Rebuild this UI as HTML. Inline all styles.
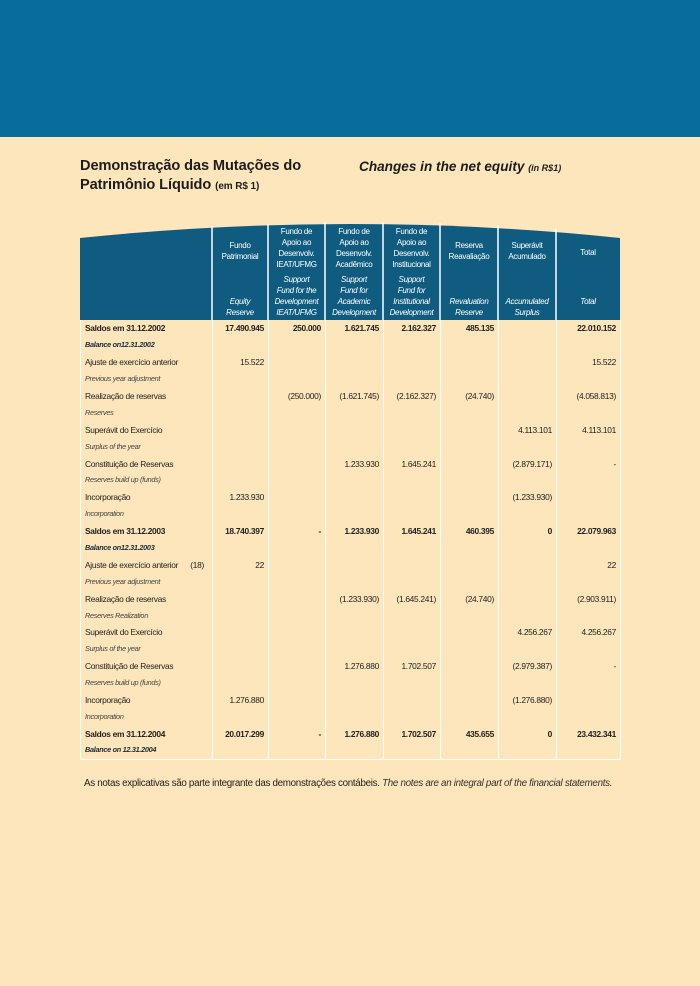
<!DOCTYPE html>
<html><head><meta charset="utf-8"><style>
*{margin:0;padding:0;box-sizing:border-box}
body{width:700px;height:986px;background:#fde6bb;position:relative;overflow:hidden;font-family:"Liberation Sans",sans-serif;color:#222}
#band{position:absolute;left:0;top:0;width:700px;height:137px;background:#086d9a}
.t1{position:absolute;left:80px;top:157px;font-size:14.6px;font-weight:bold;color:#1d1d1d;line-height:19px;letter-spacing:-0.1px}
.t1 small{font-size:10px}
.t2{position:absolute;left:359px;top:159px;font-size:13.6px;font-weight:bold;font-style:italic;color:#1d1d1d}
.t2 small{font-size:9px}
#hdr{position:absolute;left:80px;top:222px}
.hc{position:absolute;top:0;height:98px;color:#fff;text-align:center;font-size:8px;line-height:11px;letter-spacing:-0.3px}
.hc .pt{position:absolute;left:0;right:0;bottom:58px}
.hc .en{position:absolute;left:0;right:0;bottom:2px;font-style:italic}
table{position:absolute;left:80px;top:320px;width:540px;border-collapse:collapse;table-layout:fixed;border:1.5px solid #fff;border-top:none}
td{height:16.9px;font-size:8.4px;letter-spacing:-0.3px;border-left:1.5px solid #fff;border-right:1.5px solid #fff;text-align:right;padding:0 4px;white-space:nowrap;line-height:10px}
td:first-child{text-align:left;padding-left:4px}
tr.b td{font-weight:bold}
tr.e td{font-style:italic;font-size:7.3px;color:#444}
tr.eb td{font-style:italic;font-weight:bold;font-size:7.3px;color:#1a2a3a}
.foot{position:absolute;left:84px;top:778px;font-size:9.8px;letter-spacing:-0.3px;color:#222}
.foot i{color:#333}
</style></head><body>
<div id="band"></div>
<div class="t1">Demonstração das Mutações do<br>Patrimônio Líquido <small>(em R$ 1)</small></div>
<div class="t2">Changes in the net equity <small>(in R$1)</small></div>

<div id="hdr">
<svg width="540" height="98" style="position:absolute;left:0;top:0">
<path d="M0 16 Q270 -12 540 16 L540 98 L0 98 Z" fill="#0f5c80"/>
<g stroke="#fff" stroke-width="1.5">
<line x1="132" y1="4" x2="132" y2="98"/><line x1="188" y1="2" x2="188" y2="98"/><line x1="245" y1="0" x2="245" y2="98"/><line x1="303" y1="0" x2="303" y2="98"/><line x1="360" y1="1" x2="360" y2="98"/><line x1="418" y1="3" x2="418" y2="98"/><line x1="476" y1="6" x2="476" y2="98"/>
</g></svg>
<div class="hc" style="left:132px;width:56px"><div class="pt">Fundo<br>Patrimonial</div><div class="en">Equity<br>Reserve</div></div>
<div class="hc" style="left:188px;width:57px"><div class="pt" style="bottom:50px">Fundo de<br>Apoio ao<br>Desenvolv.<br>IEAT/UFMG</div><div class="en">Support<br>Fund for the<br>Development<br>IEAT/UFMG</div></div>
<div class="hc" style="left:245px;width:58px"><div class="pt" style="bottom:50px">Fundo de<br>Apoio ao<br>Desenvolv.<br>Acadêmico</div><div class="en">Support<br>Fund for<br>Academic<br>Development</div></div>
<div class="hc" style="left:303px;width:57px"><div class="pt" style="bottom:50px">Fundo de<br>Apoio ao<br>Desenvolv.<br>Institucional</div><div class="en">Support<br>Fund for<br>Institutional<br>Development</div></div>
<div class="hc" style="left:360px;width:58px"><div class="pt">Reserva<br>Reavaliação</div><div class="en">Revaluation<br>Reserve</div></div>
<div class="hc" style="left:418px;width:58px"><div class="pt">Superávit<br>Acumulado</div><div class="en">Accumulated<br>Surplus</div></div>
<div class="hc" style="left:476px;width:64px"><div class="pt" style="bottom:62px">Total</div><div class="en" style="bottom:13px">Total</div></div>
</div>

<table>
<colgroup><col style="width:132px"><col style="width:56px"><col style="width:57px"><col style="width:58px"><col style="width:57px"><col style="width:58px"><col style="width:58px"><col style="width:64px"></colgroup>
<tr class="b"><td>Saldos em 31.12.2002</td><td>17.490.945</td><td>250.000</td><td>1.621.745</td><td>2.162.327</td><td>485.135</td><td></td><td>22.010.152</td></tr>
<tr class="eb"><td>Balance on12.31.2002</td><td></td><td></td><td></td><td></td><td></td><td></td><td></td></tr>
<tr><td>Ajuste de exercício anterior</td><td>15.522</td><td></td><td></td><td></td><td></td><td></td><td>15.522</td></tr>
<tr class="e"><td>Previous year adjustment</td><td></td><td></td><td></td><td></td><td></td><td></td><td></td></tr>
<tr><td>Realização de reservas</td><td></td><td>(250.000)</td><td>(1.621.745)</td><td>(2.162.327)</td><td>(24.740)</td><td></td><td>(4.058.813)</td></tr>
<tr class="e"><td>Reserves</td><td></td><td></td><td></td><td></td><td></td><td></td><td></td></tr>
<tr><td>Superávit do Exercício</td><td></td><td></td><td></td><td></td><td></td><td>4.113.101</td><td>4.113.101</td></tr>
<tr class="e"><td>Surplus of the year</td><td></td><td></td><td></td><td></td><td></td><td></td><td></td></tr>
<tr><td>Constituição de Reservas</td><td></td><td></td><td>1.233.930</td><td>1.645.241</td><td></td><td>(2.879.171)</td><td>-</td></tr>
<tr class="e"><td>Reserves build up (funds)</td><td></td><td></td><td></td><td></td><td></td><td></td><td></td></tr>
<tr><td>Incorporação</td><td>1.233.930</td><td></td><td></td><td></td><td></td><td>(1.233.930)</td><td></td></tr>
<tr class="e"><td>Incorporation</td><td></td><td></td><td></td><td></td><td></td><td></td><td></td></tr>
<tr class="b"><td>Saldos em 31.12.2003</td><td>18.740.397</td><td>-</td><td>1.233.930</td><td>1.645.241</td><td>460.395</td><td>0</td><td>22.079.963</td></tr>
<tr class="eb"><td>Balance on12.31.2003</td><td></td><td></td><td></td><td></td><td></td><td></td><td></td></tr>
<tr><td>Ajuste de exercício anterior&nbsp;&nbsp;&nbsp;&nbsp;&nbsp;&nbsp;(18)</td><td>22</td><td></td><td></td><td></td><td></td><td></td><td>22</td></tr>
<tr class="e"><td>Previous year adjustment</td><td></td><td></td><td></td><td></td><td></td><td></td><td></td></tr>
<tr><td>Realização de reservas</td><td></td><td></td><td>(1.233.930)</td><td>(1.645.241)</td><td>(24.740)</td><td></td><td>(2.903.911)</td></tr>
<tr class="e"><td>Reserves Realization</td><td></td><td></td><td></td><td></td><td></td><td></td><td></td></tr>
<tr><td>Superávit do Exercício</td><td></td><td></td><td></td><td></td><td></td><td>4.256.267</td><td>4.256.267</td></tr>
<tr class="e"><td>Surplus of the year</td><td></td><td></td><td></td><td></td><td></td><td></td><td></td></tr>
<tr><td>Constituição de Reservas</td><td></td><td></td><td>1.276.880</td><td>1.702.507</td><td></td><td>(2.979.387)</td><td>-</td></tr>
<tr class="e"><td>Reserves build up (funds)</td><td></td><td></td><td></td><td></td><td></td><td></td><td></td></tr>
<tr><td>Incorporação</td><td>1.276.880</td><td></td><td></td><td></td><td></td><td>(1.276.880)</td><td></td></tr>
<tr class="e"><td>Incorporation</td><td></td><td></td><td></td><td></td><td></td><td></td><td></td></tr>
<tr class="b"><td>Saldos em 31.12.2004</td><td>20.017.299</td><td>-</td><td>1.276.880</td><td>1.702.507</td><td>435.655</td><td>0</td><td>23.432.341</td></tr>
<tr class="eb"><td>Balance on 12.31.2004</td><td></td><td></td><td></td><td></td><td></td><td></td><td></td></tr>
</table>

<div class="foot">As notas explicativas são parte integrante das demonstrações contábeis. <i>The notes are an integral part of the financial statements.</i></div>
</body></html>
